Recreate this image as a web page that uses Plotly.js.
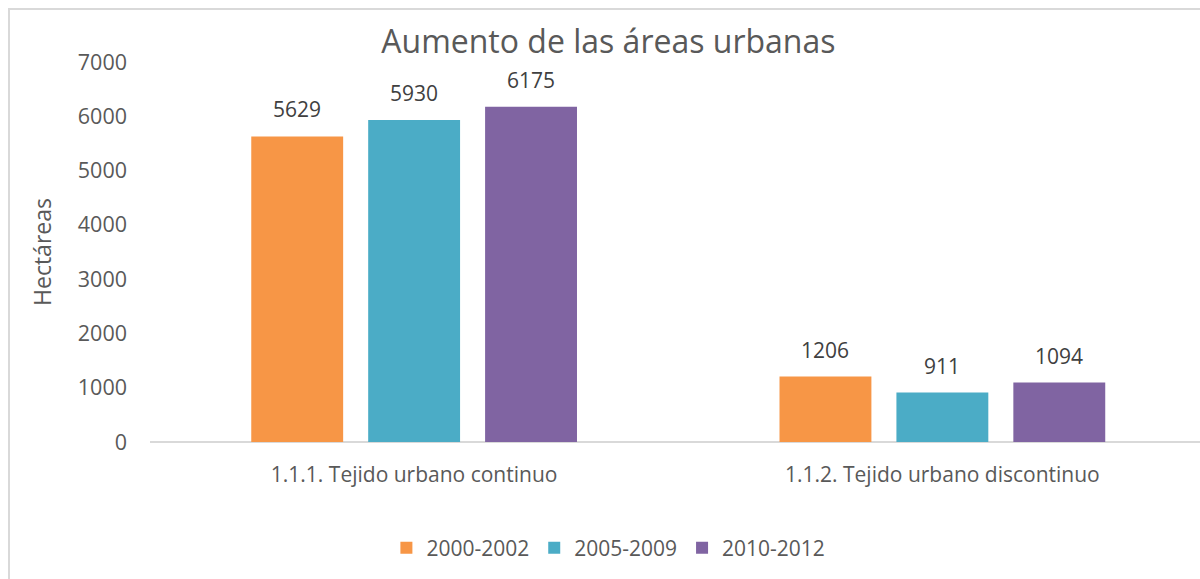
<!DOCTYPE html>
<html>
<head>
<meta charset="utf-8">
<script src="https://cdn.plot.ly/plotly-3.0.1.min.js"></script>
<style>
  html, body { margin: 0; padding: 0; background: #fff; overflow: hidden; }
  #chart { width: 1200px; height: 579px; }
  #frame { position: absolute; left: 8px; top: 8px; width: 1300px; height: 700px;
           border-left: 2px solid #d9d9d9; border-top: 2px solid #d9d9d9; pointer-events: none; }
</style>
</head>
<body>
<div id="chart"></div>
<div id="frame"></div>
<script>
const categories = ["1.1.1. Tejido urbano continuo", "1.1.2. Tejido urbano discontinuo"];
const seriesNames = ["2000-2002", "2005-2009", "2010-2012"];
const values2000_2002 = [5629, 1206];
const values2005_2009 = [5930, 911];
const values2010_2012 = [6175, 1094];
const yTicks = [0, 1000, 2000, 3000, 4000, 5000, 6000, 7000];

const allValues = [values2000_2002, values2005_2009, values2010_2012];
const colors = ["#F79646", "#4BACC6", "#8064A2"];
const FONT = "Open Sans, sans-serif";

const traces = allValues.map((vals, i) => ({
  type: "bar",
  name: seriesNames[i],
  x: categories,
  y: vals,
  marker: { color: colors[i] },
  hoverinfo: "x+y+name"
}));

const annotations = [];
allValues.forEach((vals, i) => {
  vals.forEach((v, j) => {
    annotations.push({
      x: categories[j], y: v, xref: "x", yref: "y",
      text: String(v), showarrow: false,
      yanchor: "bottom", yshift: 11, xshift: (i - 1) * 117,
      font: { family: FONT, size: 21, color: "#404040" }
    });
  });
});

const layout = {
  width: 1200, height: 579,
  margin: { l: 150, r: 0, t: 62, b: 137 },
  paper_bgcolor: "#fff", plot_bgcolor: "#fff",
  barmode: "group", bargap: 0.336, bargroupgap: 0.214,
  title: {
    text: "Aumento de las áreas urbanas",
    font: { family: FONT, size: 32, color: "#595959" },
    xref: "container", yref: "container", x: 0.507, y: 1 - 42 / 579,
    xanchor: "center", yanchor: "middle"
  },
  xaxis: {
    type: "category",
    range: [-0.5, 1.4877],
    showgrid: false, zeroline: false,
    showline: false,
    ticks: "", ticklabelstandoff: 18,
    tickfont: { family: FONT, size: 21, color: "#595959" },
    fixedrange: true
  },
  yaxis: {
    range: [0, 7000],
    tickvals: yTicks,
    ticktext: yTicks.map(String),
    showgrid: false, zeroline: true, zerolinecolor: "#d9d9d9", zerolinewidth: 2,
    showline: false, ticks: "", ticklabelstandoff: 22,
    tickfont: { family: FONT, size: 21.5, color: "#595959" },
    title: { text: "Hectáreas", standoff: 19, font: { family: FONT, size: 23, color: "#595959" } },
    fixedrange: true
  },
  showlegend: true,
  legend: {
    orientation: "h",
    xref: "container", yref: "container",
    x: 0.507, y: 1 - 548 / 579, xanchor: "center", yanchor: "middle",
    font: { family: FONT, size: 21, color: "#595959" },
    itemwidth: 30, traceorder: "normal"
  },
  annotations: annotations
};

Plotly.newPlot("chart", traces, layout, { displayModeBar: false, staticPlot: true });
</script>
</body>
</html>
